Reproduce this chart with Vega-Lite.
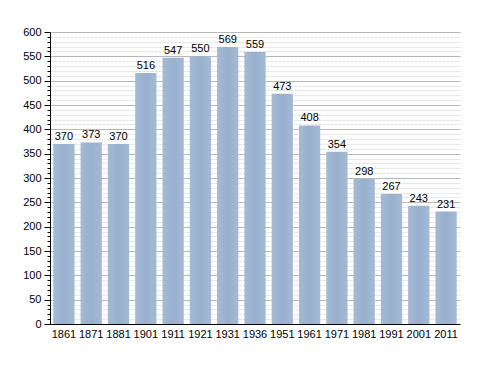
{
  "$schema": "https://vega.github.io/schema/vega-lite/v6.json",
  "autosize": "none",
  "width": 410,
  "height": 292,
  "padding": {"left": 50, "top": 32, "right": 28, "bottom": 49},
  "background": "white",
  "data": {"values": [
    {"year": "1861", "pop": 370},
    {"year": "1871", "pop": 373},
    {"year": "1881", "pop": 370},
    {"year": "1901", "pop": 516},
    {"year": "1911", "pop": 547},
    {"year": "1921", "pop": 550},
    {"year": "1931", "pop": 569},
    {"year": "1936", "pop": 559},
    {"year": "1951", "pop": 473},
    {"year": "1961", "pop": 408},
    {"year": "1971", "pop": 354},
    {"year": "1981", "pop": 298},
    {"year": "1991", "pop": 267},
    {"year": "2001", "pop": 243},
    {"year": "2011", "pop": 231}
  ]},
  "config": {
    "view": {"stroke": null},
    "font": "Liberation Sans"
  },
  "encoding": {
    "x": {"field": "year", "type": "ordinal", "sort": null,
      "scale": {"paddingInner": 0.22, "paddingOuter": 0.12},
      "axis": {"title": null, "labelAngle": 0, "labelFont": "Liberation Sans", "labelFontSize": 11, "labelColor": "#000", "ticks": false, "domainColor": "#000", "domainWidth": 1, "labelPadding": 4}},
    "y": {"field": "pop", "type": "quantitative",
      "scale": {"domain": [0, 600], "nice": false},
      "axis": {"title": null,
        "values": [0,10,20,30,40,50,60,70,80,90,100,110,120,130,140,150,160,170,180,190,200,210,220,230,240,250,260,270,280,290,300,310,320,330,340,350,360,370,380,390,400,410,420,430,440,450,460,470,480,490,500,510,520,530,540,550,560,570,580,590,600],
        "labelExpr": "datum.value % 50 === 0 ? datum.label : ''",
        "labelFont": "Liberation Sans", "labelFontSize": 11, "labelColor": "#000",
        "labelPadding": 3,
        "domainColor": "#000",
        "tickColor": "#000",
        "tickSize": {"condition": {"test": "datum.value % 50 === 0", "value": 6}, "value": 3},
        "gridColor": {"condition": {"test": "datum.value % 50 === 0", "value": "#b8b8b8"}, "value": "#e2e2e2"},
        "gridDash": {"condition": {"test": "datum.value % 50 === 0", "value": []}, "value": [3, 1]},
        "gridWidth": 1}}
  },
  "layer": [
    {"mark": {"type": "bar", "color": {"x1": 0, "x2": 1, "y1": 0, "y2": 0, "gradient": "linear", "stops": [{"offset": 0, "color": "#a4bad4"}, {"offset": 0.5, "color": "#98b0cd"}, {"offset": 1, "color": "#a4bad4"}]}}},
    {"mark": {"type": "text", "baseline": "bottom", "dy": -2, "fontSize": 11, "color": "#000"},
      "encoding": {"text": {"field": "pop", "type": "quantitative"}}}
  ]
}
